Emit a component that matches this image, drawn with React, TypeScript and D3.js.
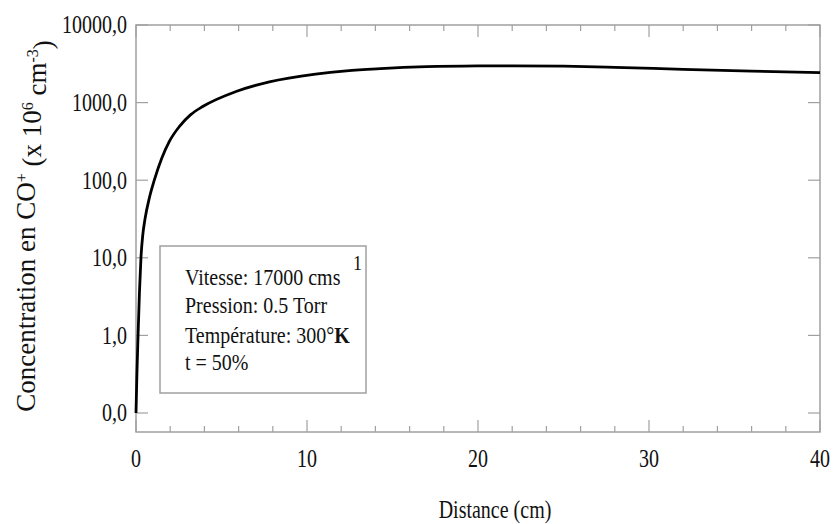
import * as d3 from 'd3'

// curve: distance (cm) vs concentration
const distance = [0, 0.05, 0.12, 0.2, 0.29, 0.4, 0.53, 0.78, 1.07, 1.5, 1.95, 2.53, 3.2, 3.9, 5.85, 7.8, 10.5, 12.3, 14.3, 17, 20, 22, 25, 28, 32, 36, 40]
const concentration = [0.1, 0.3, 1, 3.5, 10, 20, 32, 59, 100, 190, 316, 490, 700, 890, 1390, 1850, 2330, 2570, 2740, 2900, 2970, 2980, 2950, 2850, 2680, 2540, 2430]

const yTickValues = [0.1, 1, 10, 100, 1000, 10000]
const yTickLabels = ['0,0', '1,0', '10,0', '100,0', '1000,0', '10000,0']
const xTickValues = [0, 10, 20, 30, 40]
const xMinorValues = d3.range(0, 41, 2)

const legendLines = ['Vitesse: 17000 cms', 'Pression: 0.5 Torr', 'Température: 300°', 't = 50%']

const W = 836, H = 524
const left = 136, right = 820, top = 25, bottom = 432
const FONT = '"Liberation Serif", "DejaVu Serif", serif'
const FRAME = '#a0a0a0'

export default function App() {
    const x = d3.scaleLinear().domain([0, 40]).range([left, right])
    const y = d3.scaleLog().domain([0.0569, 10000]).range([bottom, top])

    const pts = distance.map((d, i) => [d, concentration[i]] as [number, number])
    const line = d3.line<[number, number]>()
        .x(d => x(d[0]))
        .y(d => y(d[1]))
        .curve(d3.curveMonotoneX)

    return (
        <svg width={W} height={H} style={{ position: 'absolute', left: 0, top: 0, background: '#fff' }}
            fontFamily={FONT}>
            {/* frame */}
            <rect x={left} y={top} width={right - left} height={bottom - top} fill="none" stroke={FRAME} strokeWidth={1.5} />

            {/* x ticks, bottom and top, pointing inward */}
            {xMinorValues.map(v => {
                const len = v % 10 === 0 ? 12 : 6
                return (
                    <g key={'xt' + v} stroke={FRAME} strokeWidth={1.2}>
                        <line x1={x(v)} x2={x(v)} y1={bottom} y2={bottom - len} />
                        <line x1={x(v)} x2={x(v)} y1={top} y2={top + len} />
                    </g>
                )
            })}
            {/* y ticks, left and right */}
            {yTickValues.map(v => (
                <g key={'yt' + v} stroke={FRAME} strokeWidth={1.2}>
                    <line x1={left} x2={left + 12} y1={y(v)} y2={y(v)} />
                    <line x1={right} x2={right - 12} y1={y(v)} y2={y(v)} />
                </g>
            ))}

            {/* tick labels */}
            {xTickValues.map(v => (
                <text key={'xl' + v} transform={`translate(${x(v)},467) scale(1,1.3)`}
                    textAnchor="middle" fontSize={20} fill="#111">{v}</text>
            ))}
            {yTickValues.map((v, i) => (
                <text key={'yl' + v} transform={`translate(127,${y(v)}) scale(1,1.27)`}
                    textAnchor="end" dy="0.33em" fontSize={20} fill="#111">{yTickLabels[i]}</text>
            ))}

            {/* axis titles */}
            <text transform="translate(495,518) scale(1,1.3)" textAnchor="middle" fontSize={20} fill="#111">
                Distance (cm)
            </text>
            <text transform="translate(35,226) rotate(-90)" textAnchor="middle" fontSize={27} fill="#111">
                Concentration en CO
                <tspan dy="-0.5em" fontSize={16}>+</tspan>
                <tspan dy="0.5em"> (x 10</tspan>
                <tspan dy="-0.5em" fontSize={16}>6</tspan>
                <tspan dy="0.5em"> cm</tspan>
                <tspan dy="-0.5em" fontSize={16}>-3</tspan>
                <tspan dy="0.5em">)</tspan>
            </text>

            {/* legend box */}
            <rect x={160} y={246} width={206} height={147} fill="#fff" stroke={FRAME} strokeWidth={1.5} />
            {legendLines.map((t, i) => (
                <text key={'lg' + i} transform={`translate(185,${[285, 313, 343, 370][i]}) scale(1,1.15)`}
                    fontSize={20} fill="#111">
                    {t}
                    {i === 2 && <tspan fontWeight="bold">K</tspan>}
                </text>
            ))}
            <text transform="translate(353,270) scale(1,1.15)" fontSize={18} fill="#111">1</text>

            {/* curve */}
            <path d={line(pts) || ''} fill="none" stroke="#000" strokeWidth={2.8} strokeLinejoin="round" />
        </svg>
    )
}
